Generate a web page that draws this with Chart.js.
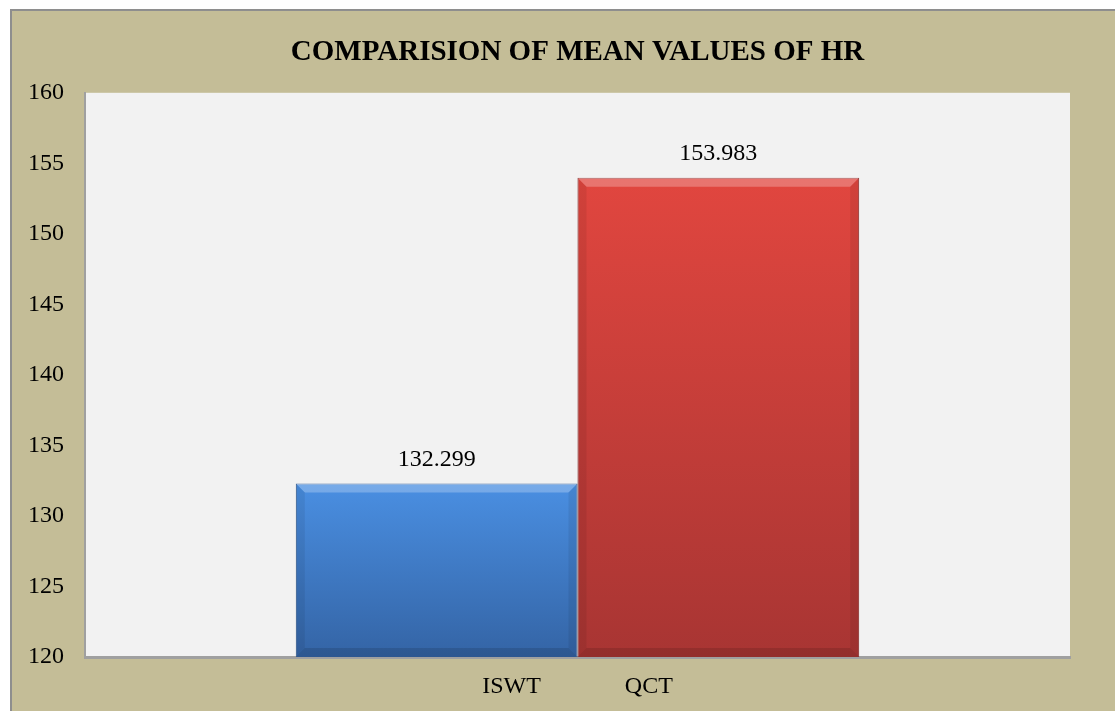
<!DOCTYPE html>
<html>
<head>
<meta charset="utf-8">
<script src="https://cdn.jsdelivr.net/npm/chart.js@4"></script>
<style>
  html, body { margin: 0; padding: 0; background: #ffffff; }
  #wrap { width: 1115px; height: 711px; }
</style>
</head>
<body>
<div id="wrap"><canvas id="hr"></canvas></div>
<script>
// Chart data
const seriesNames = ['ISWT', 'QCT'];
const iswtValues = [132.299];
const qctValues = [153.983];
const yTicks = [120, 125, 130, 135, 140, 145, 150, 155, 160];

// Colors (top / bottom of gradient)
const barColors = {
  iswt: ['#4A8FE2', '#3464A5'],
  qct: ['#E1463F', '#A83533']
};

const serif = '"Liberation Serif", "Times New Roman", serif';

// one category holding both series, label spaced like the original
const categoryLabel = seriesNames.join(' '.repeat(14));

function gradientFor(colors) {
  return function(context) {
    const chart = context.chart;
    const area = chart.chartArea;
    if (!area || context.raw === undefined) return colors[0];
    const top = chart.scales.y.getPixelForValue(context.raw);
    const g = chart.ctx.createLinearGradient(0, top, 0, area.bottom);
    g.addColorStop(0, colors[0]);
    g.addColorStop(1, colors[1]);
    return g;
  };
}

// Frame + plot area background
const frame = {
  id: 'frame',
  beforeDraw(chart) {
    const ctx = chart.ctx;
    const a = chart.chartArea;
    ctx.save();
    ctx.fillStyle = '#ffffff';
    ctx.fillRect(0, 0, chart.width, chart.height);
    ctx.fillStyle = '#8E8E8E';
    ctx.fillRect(10, 9, chart.width - 10, chart.height - 9);
    ctx.fillStyle = '#C4BD97';
    ctx.fillRect(12, 11, chart.width - 12, chart.height - 11);
    ctx.fillStyle = '#F2F2F2';
    ctx.fillRect(a.left, a.top, a.right - a.left, a.bottom - a.top);
    ctx.restore();
  }
};

// Bevel edges and value labels on bars
const bevel = {
  id: 'bevel',
  afterDatasetsDraw(chart) {
    const ctx = chart.ctx;
    const area = chart.chartArea;
    ctx.save();
    chart.data.datasets.forEach((ds, i) => {
      chart.getDatasetMeta(i).data.forEach((bar, j) => {
        const l = bar.x - bar.width / 2;
        const r = bar.x + bar.width / 2;
        const t = bar.y;
        const b = Math.min(bar.base, area.bottom);
        const e = 9;
        // top highlight
        ctx.fillStyle = 'rgba(255,255,255,0.25)';
        ctx.beginPath();
        ctx.moveTo(l, t); ctx.lineTo(r, t); ctx.lineTo(r - e, t + e); ctx.lineTo(l + e, t + e);
        ctx.closePath(); ctx.fill();
        // side shade
        ctx.fillStyle = 'rgba(0,0,0,0.07)';
        ctx.beginPath();
        ctx.moveTo(l, t); ctx.lineTo(l + e, t + e); ctx.lineTo(l + e, b - e); ctx.lineTo(l, b);
        ctx.closePath(); ctx.fill();
        ctx.beginPath();
        ctx.moveTo(r, t); ctx.lineTo(r - e, t + e); ctx.lineTo(r - e, b - e); ctx.lineTo(r, b);
        ctx.closePath(); ctx.fill();
        // bottom shade
        ctx.fillStyle = 'rgba(0,0,0,0.12)';
        ctx.beginPath();
        ctx.moveTo(l, b); ctx.lineTo(l + e, b - e); ctx.lineTo(r - e, b - e); ctx.lineTo(r, b);
        ctx.closePath(); ctx.fill();
        // value label
        ctx.fillStyle = '#000000';
        ctx.font = '24px ' + serif;
        ctx.textAlign = 'center';
        ctx.textBaseline = 'middle';
        ctx.fillText(ds.data[j].toFixed(3), bar.x, t - 24);
      });
    });
    ctx.restore();
  }
};

new Chart(document.getElementById('hr'), {
  type: 'bar',
  data: {
    labels: [categoryLabel],
    datasets: [
      {
        label: seriesNames[0],
        data: iswtValues,
        backgroundColor: gradientFor(barColors.iswt),
        borderColor: '#2F5A94',
        borderWidth: 1,
        categoryPercentage: 0.572,
        barPercentage: 1
      },
      {
        label: seriesNames[1],
        data: qctValues,
        backgroundColor: gradientFor(barColors.qct),
        borderColor: '#8E2C2A',
        borderWidth: 1,
        categoryPercentage: 0.572,
        barPercentage: 1
      }
    ]
  },
  options: {
    responsive: true,
    maintainAspectRatio: false,
    animation: false,
    layout: {
      padding: { top: 9, right: 45, bottom: 0, left: 0 }
    },
    plugins: {
      legend: { display: false },
      tooltip: { enabled: false },
      title: {
        display: true,
        fullSize: false,
        text: 'COMPARISION OF MEAN VALUES OF HR',
        color: '#000000',
        font: { family: serif, size: 29, weight: 'bold' },
        padding: { top: 26, bottom: 23 }
      }
    },
    scales: {
      x: {
        grid: { display: false, drawTicks: false },
        border: { display: true, color: '#A0A0A0', width: 3 },
        ticks: {
          color: '#000000',
          font: { family: serif, size: 24 },
          padding: 15,
          maxRotation: 0
        },
        afterFit(scale) { scale.height = 54; }
      },
      y: {
        min: yTicks[0],
        max: yTicks[yTicks.length - 1],
        afterBuildTicks(scale) {
          scale.ticks = yTicks.map(v => ({ value: v }));
        },
        grid: { display: false, drawTicks: false },
        border: { display: true, color: '#A0A0A0', width: 2 },
        ticks: {
          color: '#000000',
          font: { family: serif, size: 24 },
          padding: 21
        },
        afterFit(scale) { scale.width = 85; }
      }
    }
  },
  plugins: [frame, bevel]
});
</script>
</body>
</html>
